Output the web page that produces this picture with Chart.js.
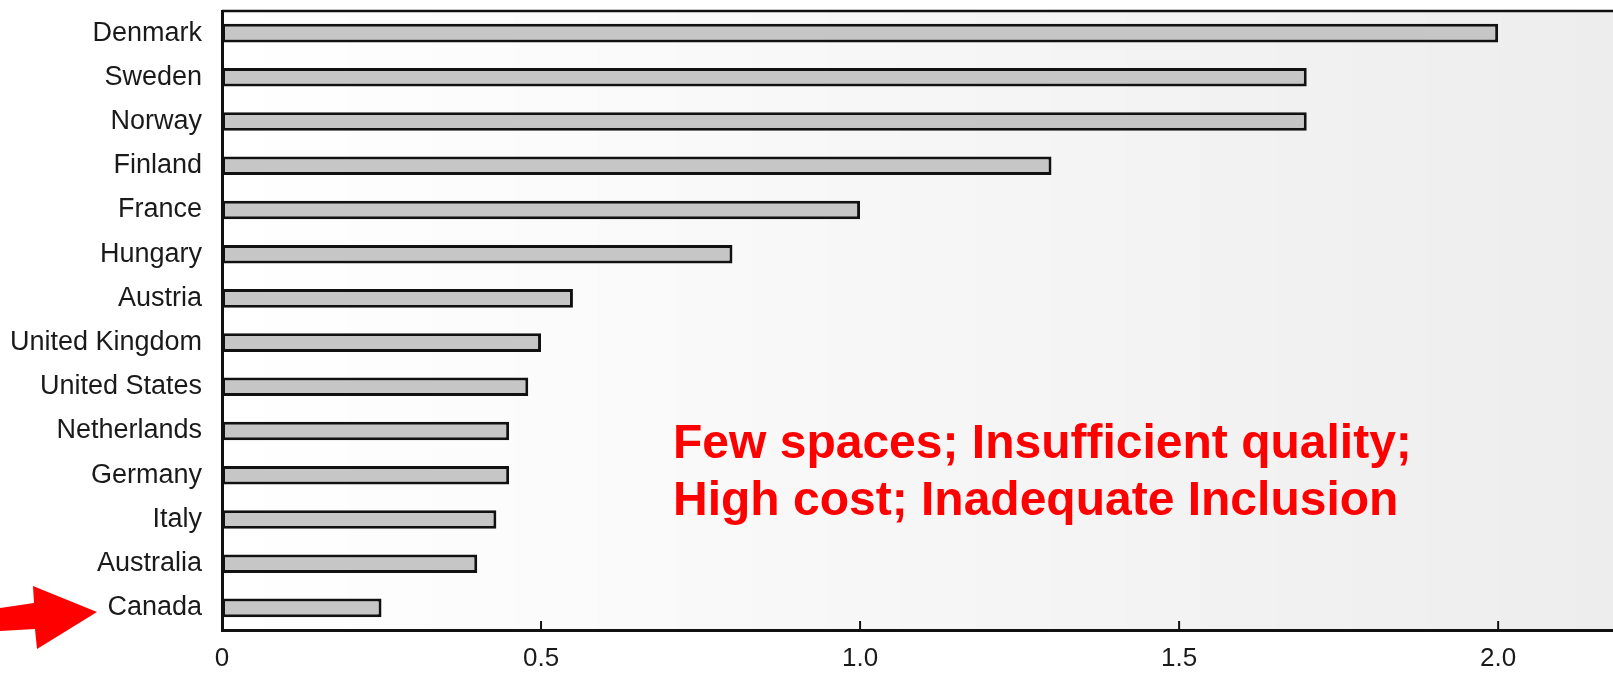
<!DOCTYPE html>
<html>
<head>
<meta charset="utf-8">
<script src="https://cdn.jsdelivr.net/npm/chart.js@4.4.1/dist/chart.umd.min.js"></script>
<style>
  html, body { margin: 0; padding: 0; background: #fff; }
  #wrap { width: 1613px; height: 673px; position: relative; }
</style>
</head>
<body>
<div id="wrap"><canvas id="myChart" width="1613" height="673"></canvas></div>
<script>
// data
var paises = ["Denmark", "Sweden", "Norway", "Finland", "France", "Hungary", "Austria",
              "United Kingdom", "United States", "Netherlands", "Germany", "Italy", "Australia", "Canada"];
var valores = [2.0, 1.7, 1.7, 1.3, 1.0, 0.8, 0.55, 0.5, 0.48, 0.45, 0.45, 0.43, 0.4, 0.25];
var ticksX = [0, 0.5, 1.0, 1.5, 2.0];
var etiquetasX = ["0", "0.5", "1.0", "1.5", "2.0"];
var nota = ["Few spaces; Insufficient quality;", "High cost; Inadequate Inclusion"];
var marcado = "Canada";

var extras = {
    id: 'extras',
    beforeDraw: function(chart) {
        var ctx = chart.ctx;
        var a = chart.chartArea;
        // speckled paper look, darker to the right
        var g = ctx.createLinearGradient(a.left, 0, a.right, 0);
        g.addColorStop(0, 'rgba(0,0,0,0)');
        g.addColorStop(0.3, 'rgba(0,0,0,0.02)');
        g.addColorStop(1, 'rgba(0,0,0,0.07)');
        ctx.save();
        ctx.fillStyle = g;
        ctx.fillRect(a.left, a.top, a.right - a.left, a.bottom - a.top);
        ctx.restore();
    },
    afterDraw: function(chart) {
        var ctx = chart.ctx;
        var a = chart.chartArea;
        var x = chart.scales.x;
        var y = chart.scales.y;
        ctx.save();
        // top frame line
        ctx.strokeStyle = '#111';
        ctx.lineWidth = 2.5;
        ctx.beginPath();
        ctx.moveTo(a.left, a.top);
        ctx.lineTo(a.right, a.top);
        ctx.stroke();
        // inward tick marks
        ctx.lineWidth = 2;
        for (var i = 1; i < ticksX.length; i++) {
            var px = x.getPixelForValue(ticksX[i]);
            ctx.beginPath();
            ctx.moveTo(px, a.bottom);
            ctx.lineTo(px, a.bottom - 9);
            ctx.stroke();
        }
        // red note
        ctx.fillStyle = '#ff0000';
        ctx.font = 'bold 48px "Liberation Sans", Arial, sans-serif';
        ctx.textBaseline = 'alphabetic';
        ctx.fillText(nota[0], 673, 458);
        ctx.fillText(nota[1], 673, 515);
        // red arrow pointing at Canada
        var cy = y.getPixelForValue(paises.indexOf(marcado));
        ctx.beginPath();
        ctx.moveTo(0, cy);
        ctx.lineTo(34, cy - 5);
        ctx.lineTo(33, cy - 22);
        ctx.lineTo(97, cy + 4);
        ctx.lineTo(37, cy + 41);
        ctx.lineTo(35, cy + 21);
        ctx.lineTo(0, cy + 23);
        ctx.closePath();
        ctx.fill();
        ctx.restore();
    }
};

var ctx = document.getElementById("myChart").getContext('2d');
var myChart = new Chart(ctx, {
    type: 'bar',
    data: {
        labels: paises,
        datasets: [{
            data: valores,
            backgroundColor: '#c6c6c6',
            borderColor: '#111',
            borderWidth: 3,
            borderSkipped: false,
            barPercentage: 0.42,
            categoryPercentage: 1
        }]
    },
    options: {
        indexAxis: 'y',
        responsive: false,
        animation: false,
        layout: { padding: { top: 11, right: 0, left: 0, bottom: 0 } },
        plugins: { legend: { display: false }, tooltip: { enabled: false } },
        scales: {
            x: {
                min: 0,
                max: 2.18,
                afterBuildTicks: function(s) { s.ticks = ticksX.map(function(v) { return { value: v }; }); },
                afterFit: function(s) { s.height = 43; s.paddingLeft = 0; s.paddingRight = 0; },
                grid: { display: false, drawTicks: false },
                border: { display: true, color: '#111', width: 3 },
                ticks: {
                    padding: 13,
                    maxRotation: 0,
                    autoSkip: false,
                    color: '#1a1a1a',
                    font: { family: '"Liberation Sans", Arial, sans-serif', size: 26 },
                    callback: function(v) { return etiquetasX[ticksX.indexOf(v)]; }
                }
            },
            y: {
                afterFit: function(s) { s.width = 222; s.paddingTop = 0; s.paddingBottom = 0; },
                grid: { display: false, drawTicks: false },
                border: { display: true, color: '#111', width: 3 },
                ticks: {
                    padding: 20,
                    autoSkip: false,
                    color: '#1a1a1a',
                    font: { family: '"Liberation Sans", Arial, sans-serif', size: 27 }
                }
            }
        }
    },
    plugins: [extras]
});
</script>
</body>
</html>
